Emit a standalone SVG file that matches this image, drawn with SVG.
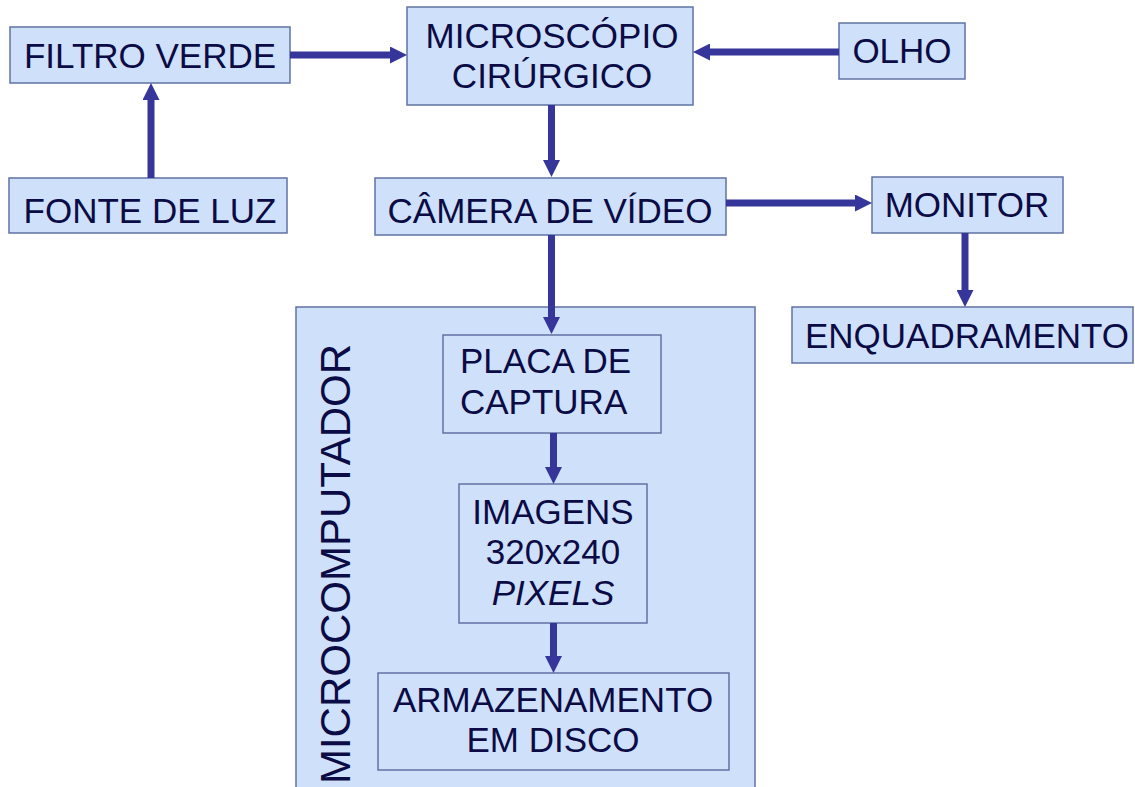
<svg xmlns="http://www.w3.org/2000/svg" width="1135" height="787" viewBox="0 0 1135 787">
  <style>
    .box { fill: #CFE0FB; stroke: #6272A4; stroke-width: 1.5; }
    .t { font-family: "Liberation Sans", Arial, sans-serif; font-size: 35px; fill: #0B0B45; text-anchor: middle; }
    .tl { text-anchor: start; }
    .it { font-style: italic; }
    .big { font-size: 42px; }
    .conn { stroke: #35359A; stroke-width: 7; fill: none; marker-end: url(#ah); }
  </style>
  <defs>
    <marker id="ah" markerUnits="userSpaceOnUse" viewBox="0 0 17 17" markerWidth="17" markerHeight="17" refX="1" refY="8.5" orient="auto">
      <path d="M0,0 L17,8.5 L0,17 Z" fill="#35359A"/>
    </marker>
  </defs>
  <rect width="1135" height="787" fill="#FFFFFF"/>

  <g id="microcomputador">
    <rect class="box" x="296" y="307" width="459" height="495"/>
    <text class="t big" transform="translate(350,564) rotate(-90)">MICROCOMPUTADOR</text>
  </g>

  <g id="filtro-verde">
    <rect class="box" x="10" y="27" width="280" height="56"/>
    <text class="t" x="150" y="68">FILTRO VERDE</text>
  </g>
  <g id="fonte-de-luz">
    <rect class="box" x="9" y="178" width="278" height="55"/>
    <text class="t" x="150" y="223">FONTE DE LUZ</text>
  </g>
  <g id="microscopio">
    <rect class="box" x="407" y="7" width="286" height="98"/>
    <text class="t" x="552" y="48">MICROSCÓPIO</text>
    <text class="t" x="552" y="88">CIRÚRGICO</text>
  </g>
  <g id="olho">
    <rect class="box" x="839" y="23" width="126" height="56"/>
    <text class="t" x="902" y="63">OLHO</text>
  </g>
  <g id="camera">
    <rect class="box" x="375" y="178" width="351" height="57"/>
    <text class="t" x="550" y="223">CÂMERA DE VÍDEO</text>
  </g>
  <g id="monitor">
    <rect class="box" x="872" y="177" width="191" height="56"/>
    <text class="t" x="967" y="217">MONITOR</text>
  </g>
  <g id="enquadramento">
    <rect class="box" x="792" y="307" width="341" height="56"/>
    <text class="t" x="967" y="348">ENQUADRAMENTO</text>
  </g>
  <g id="placa-de-captura">
    <rect class="box" x="443" y="335" width="218" height="98"/>
    <text class="t tl" x="460" y="373">PLACA DE</text>
    <text class="t tl" x="460" y="414">CAPTURA</text>
  </g>
  <g id="imagens">
    <rect class="box" x="459" y="484" width="188" height="139"/>
    <text class="t" x="553" y="524">IMAGENS</text>
    <text class="t" x="553" y="564">320x240</text>
    <text class="t it" x="553" y="605">PIXELS</text>
  </g>
  <g id="armazenamento">
    <rect class="box" x="378" y="673" width="351" height="97"/>
    <text class="t" x="553" y="712">ARMAZENAMENTO</text>
    <text class="t" x="553" y="752">EM DISCO</text>
  </g>

  <g id="connectors">
    <line class="conn" x1="151" y1="178" x2="151" y2="99"/>
    <line class="conn" x1="290" y1="55" x2="391" y2="55"/>
    <line class="conn" x1="839" y1="52" x2="709" y2="52"/>
    <line class="conn" x1="551.5" y1="105" x2="551.5" y2="161"/>
    <line class="conn" x1="726" y1="203" x2="856" y2="203"/>
    <line class="conn" x1="965" y1="233" x2="965" y2="291"/>
    <line class="conn" x1="551.5" y1="235" x2="551.5" y2="318"/>
    <line class="conn" x1="553.5" y1="433" x2="553.5" y2="468"/>
    <line class="conn" x1="553.5" y1="623" x2="553.5" y2="657"/>
  </g>
</svg>
